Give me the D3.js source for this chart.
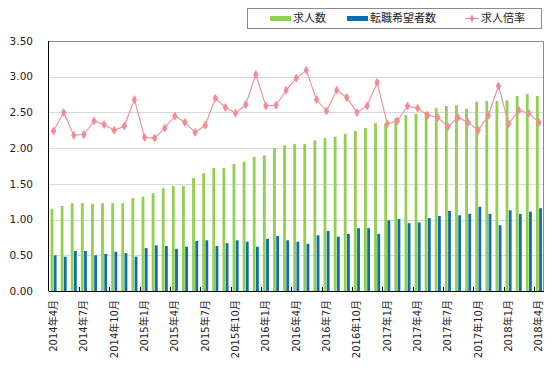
<!DOCTYPE html>
<html>
<head>
<meta charset="utf-8">
<script src="https://cdn.jsdelivr.net/npm/d3@7"></script>
<style>
  body { margin: 0; background: #fff; }
  svg { display: block; font-family: "DejaVu Sans", "Noto Sans CJK JP", sans-serif; }
</style>
</head>
<body>
<svg id="chart" width="553" height="372"></svg>
<script>
// 月次カテゴリ（2014年4月〜2018年4月）
const months = [
  '2014年4月','2014年5月','2014年6月','2014年7月','2014年8月','2014年9月','2014年10月','2014年11月','2014年12月',
  '2015年1月','2015年2月','2015年3月','2015年4月','2015年5月','2015年6月','2015年7月','2015年8月','2015年9月',
  '2015年10月','2015年11月','2015年12月','2016年1月','2016年2月','2016年3月','2016年4月','2016年5月','2016年6月',
  '2016年7月','2016年8月','2016年9月','2016年10月','2016年11月','2016年12月','2017年1月','2017年2月','2017年3月',
  '2017年4月','2017年5月','2017年6月','2017年7月','2017年8月','2017年9月','2017年10月','2017年11月','2017年12月',
  '2018年1月','2018年2月','2018年3月','2018年4月'
];

// 求人数
const jobs = [
  1.15, 1.19, 1.23, 1.23, 1.22, 1.23, 1.23, 1.23, 1.30, 1.32, 1.37, 1.44, 1.47, 1.47, 1.58,
  1.65, 1.72, 1.72, 1.78, 1.81, 1.88, 1.90, 2.00, 2.04, 2.06, 2.06, 2.11, 2.14, 2.16, 2.20, 2.24, 2.28, 2.35,
  2.34, 2.42, 2.46, 2.48, 2.51, 2.56, 2.59, 2.60, 2.55, 2.65, 2.66, 2.66, 2.67, 2.73, 2.76, 2.73
];

// 転職希望者数
const seekers = [
  0.50, 0.48, 0.56, 0.56, 0.50, 0.52, 0.55, 0.53, 0.48, 0.60, 0.64, 0.63, 0.59, 0.62, 0.70,
  0.71, 0.63, 0.67, 0.71, 0.69, 0.62, 0.73, 0.77, 0.71, 0.69, 0.66, 0.78, 0.84, 0.76, 0.80, 0.88, 0.88, 0.80,
  0.99, 1.01, 0.95, 0.96, 1.02, 1.05, 1.12, 1.06, 1.08, 1.18, 1.08, 0.92, 1.13, 1.08, 1.11, 1.16
];

// 求人倍率
const ratio = [
  2.24, 2.50, 2.18, 2.19, 2.38, 2.33, 2.25, 2.31, 2.68, 2.15, 2.14, 2.28, 2.45, 2.36, 2.22,
  2.32, 2.70, 2.57, 2.49, 2.61, 3.03, 2.59, 2.60, 2.81, 2.98, 3.09, 2.68, 2.52, 2.81, 2.71, 2.50, 2.59, 2.92,
  2.34, 2.38, 2.59, 2.56, 2.46, 2.43, 2.30, 2.43, 2.36, 2.25, 2.46, 2.87, 2.34, 2.53, 2.49, 2.36
];

// 目盛り
const yTicks = [0, 0.5, 1.0, 1.5, 2.0, 2.5, 3.0, 3.5];
const xTickLabels = [
  '2014年4月','2014年7月','2014年10月','2015年1月','2015年4月','2015年7月','2015年10月','2016年1月','2016年4月',
  '2016年7月','2016年10月','2017年1月','2017年4月','2017年7月','2017年10月','2018年1月','2018年4月'
];

const legendItems = [
  { name: '求人数', type: 'bar', color: '#92d050' },
  { name: '転職希望者数', type: 'bar', color: '#0f6eab' },
  { name: '求人倍率', type: 'line', color: '#f28b93' }
];

const GREEN = '#92d050', BLUE = '#0f6eab', PINK = '#f28b93';
const plot = { left: 48.5, right: 544, top: 41, bottom: 291 };

const svg = d3.select('#chart');

const x = d3.scaleBand()
  .domain(months)
  .range([plot.left, plot.right])
  .paddingInner(0).paddingOuter(0);

const y = d3.scaleLinear()
  .domain([0, 3.5])
  .range([plot.bottom, plot.top]);

// グリッド線
svg.append('g').selectAll('line')
  .data(yTicks.filter(t => t > 0 && t < 3.5))
  .join('line')
  .attr('x1', plot.left).attr('x2', plot.right)
  .attr('y1', d => Math.round(y(d)) + 0.5).attr('y2', d => Math.round(y(d)) + 0.5)
  .attr('stroke', '#d9d9d9').attr('stroke-width', 1);

// 枠（上・右）
svg.append('path')
  .attr('d', `M${plot.left},${plot.top + 0.5}H${plot.right - 0.5}V${plot.bottom}`)
  .attr('fill', 'none').attr('stroke', '#8c8c8c').attr('stroke-width', 1);

// 棒グラフ
const barW = 2.8;
const cx = d => x(d) + x.bandwidth() / 2;

svg.append('g').selectAll('rect')
  .data(months)
  .join('rect')
  .attr('x', (d, i) => cx(d) - barW - 0.2)
  .attr('width', barW)
  .attr('y', (d, i) => y(jobs[i]))
  .attr('height', (d, i) => y(0) - y(jobs[i]))
  .attr('fill', GREEN);

svg.append('g').selectAll('rect')
  .data(months)
  .join('rect')
  .attr('x', (d, i) => cx(d) + 0.2)
  .attr('width', barW)
  .attr('y', (d, i) => y(seekers[i]))
  .attr('height', (d, i) => y(0) - y(seekers[i]))
  .attr('fill', BLUE);

// 求人倍率ライン
const line = d3.line()
  .x((d, i) => cx(months[i]))
  .y(d => y(d));

svg.append('path')
  .datum(ratio)
  .attr('d', line)
  .attr('fill', 'none')
  .attr('stroke', PINK)
  .attr('stroke-width', 1.1);

const diamond = d3.symbol().type(d3.symbolDiamond).size(18);
svg.append('g').selectAll('path')
  .data(ratio)
  .join('path')
  .attr('transform', (d, i) => `translate(${cx(months[i])},${y(d)})`)
  .attr('d', diamond)
  .attr('fill', PINK)
  .attr('stroke', PINK)
  .attr('stroke-width', 0.8);

// Y軸
const yAxis = svg.append('g');
yAxis.append('line')
  .attr('x1', plot.left).attr('x2', plot.left)
  .attr('y1', plot.top).attr('y2', plot.bottom)
  .attr('stroke', '#000');
yAxis.selectAll('text')
  .data(yTicks)
  .join('text')
  .attr('x', 33)
  .attr('y', d => y(d))
  .attr('dy', '0.35em')
  .attr('text-anchor', 'end')
  .attr('font-size', 10.5)
  .attr('fill', '#222')
  .text(d => d3.format('.2f')(d));

// X軸
const xAxis = svg.append('g');
xAxis.append('line')
  .attr('x1', plot.left).attr('x2', plot.right)
  .attr('y1', plot.bottom + 0.5).attr('y2', plot.bottom + 0.5)
  .attr('stroke', '#000');

const tickIdx = xTickLabels.map(l => months.indexOf(l));
xAxis.selectAll('line.tick')
  .data(tickIdx.filter(i => i > 0))
  .join('line')
  .attr('class', 'tick')
  .attr('x1', i => Math.round(x(months[i])) + 0.5).attr('x2', i => Math.round(x(months[i])) + 0.5)
  .attr('y1', plot.bottom - 4).attr('y2', plot.bottom)
  .attr('stroke', '#000');

xAxis.selectAll('text')
  .data(xTickLabels)
  .join('text')
  .attr('transform', d => `translate(${cx(d)},${plot.bottom + 9}) rotate(-90)`)
  .attr('text-anchor', 'end')
  .attr('dy', '0.35em')
  .attr('font-size', 10)
  .attr('fill', '#222')
  .text(d => d);

// 凡例
const legend = svg.append('g');
legend.append('rect')
  .attr('x', 247.5).attr('y', 8.5)
  .attr('width', 294).attr('height', 20)
  .attr('fill', '#fff').attr('stroke', '#8c8c8c');

const legendX = [270, 347, 465];
legendItems.forEach((item, i) => {
  const g = legend.append('g').attr('transform', `translate(${legendX[i]},18.5)`);
  if (item.type === 'bar') {
    g.append('rect').attr('x', 0).attr('y', -2.5).attr('width', 21).attr('height', 5).attr('fill', item.color);
    g.append('text').attr('x', 23).attr('dy', '0.35em').attr('font-size', 11).attr('fill', '#222').text(item.name);
  } else {
    g.append('line').attr('x1', 0).attr('x2', 14).attr('stroke', item.color).attr('stroke-width', 1.1);
    g.append('path').attr('transform', 'translate(7,0)').attr('d', diamond).attr('fill', item.color);
    g.append('text').attr('x', 16).attr('dy', '0.35em').attr('font-size', 11).attr('fill', '#222').text(item.name);
  }
});
</script>
</body>
</html>
